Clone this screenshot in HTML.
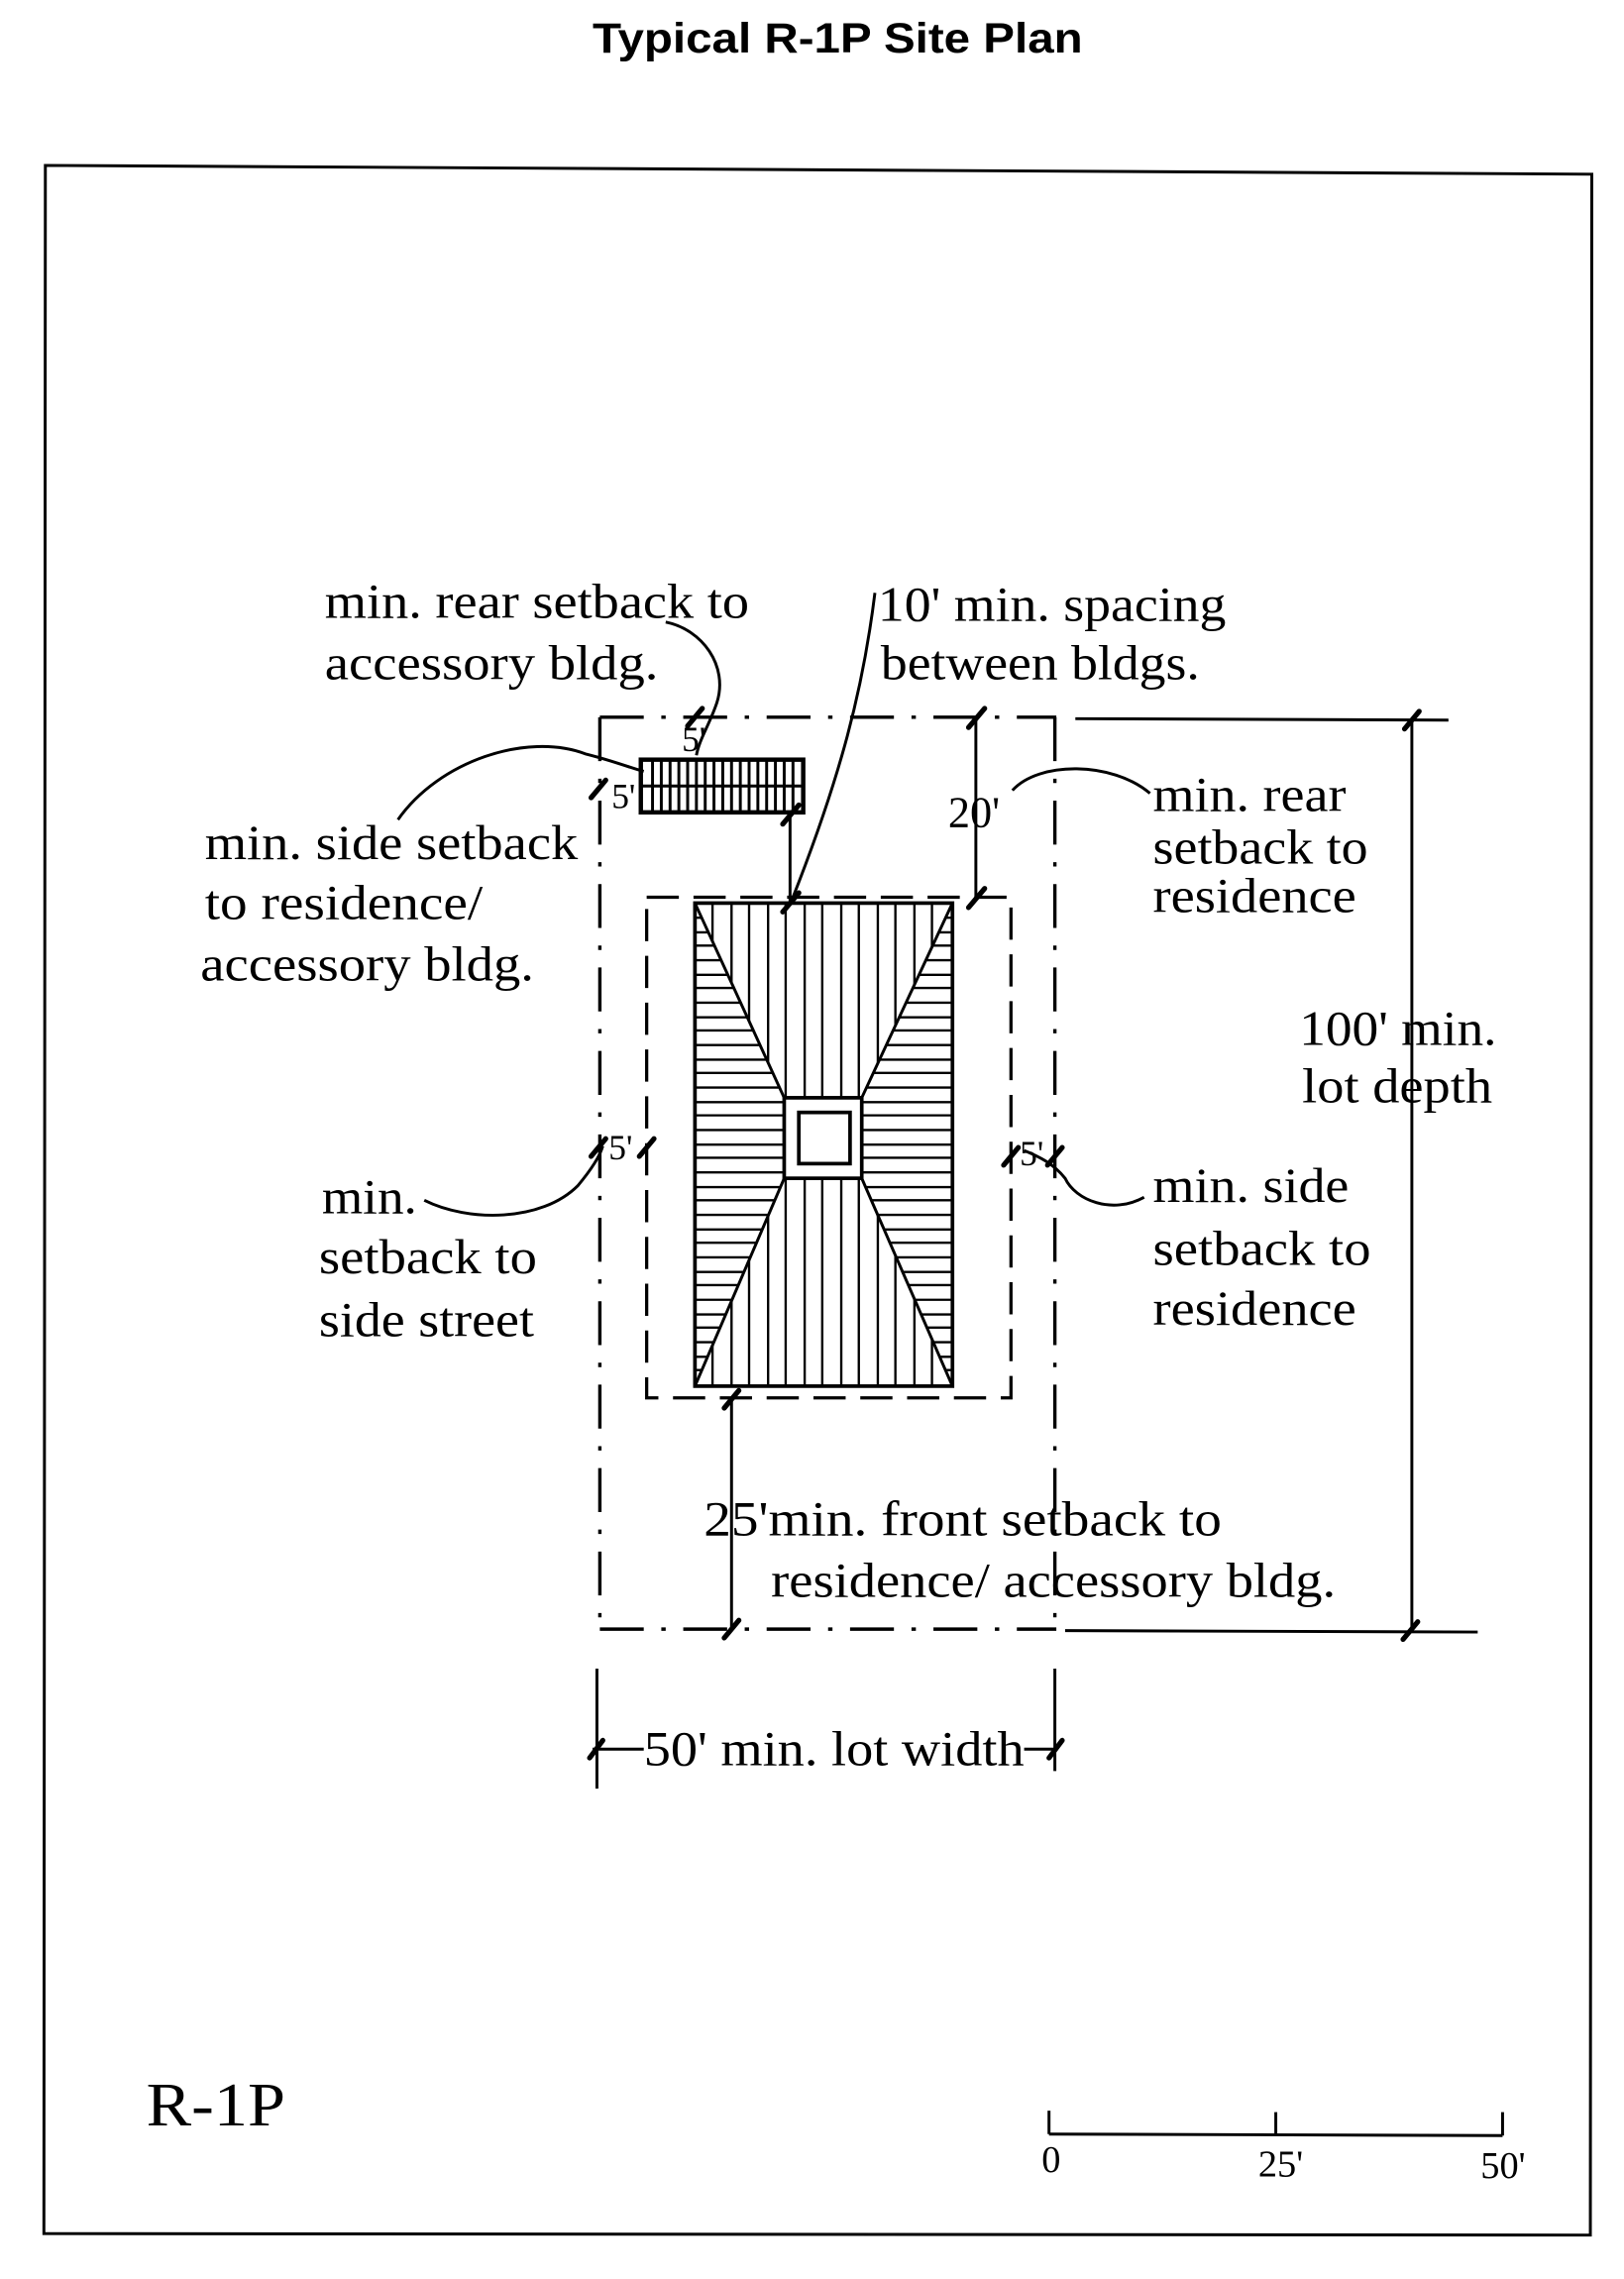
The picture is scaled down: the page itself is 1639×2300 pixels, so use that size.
<!DOCTYPE html>
<html><head><meta charset="utf-8"><style>
html,body{margin:0;padding:0;background:#fff}
svg{display:block}
text{font-family:"Liberation Serif",serif;fill:#000}
</style></head><body>
<svg width="1639" height="2300" viewBox="0 0 1110 1557" preserveAspectRatio="none" xmlns="http://www.w3.org/2000/svg">
<defs>
<clipPath id="hg"><polygon points="475,617 651,617 589,750 589,805 651,947 475,947 536,805 536,750"/></clipPath>
<clipPath id="sides"><polygon points="475,617 536,750 536,805 475,947"/><polygon points="651,617 589,750 589,805 651,947"/></clipPath>
</defs>
<text x="405" y="36" textLength="335" lengthAdjust="spacingAndGlyphs" style="font-family:'Liberation Sans',sans-serif;font-weight:bold;font-size:29px">Typical R-1P Site Plan</text>
<polygon points="31,113 1088,119 1087,1527 30,1526" fill="none" stroke="#000" stroke-width="2"/>
<g stroke="#000" stroke-width="2.3" fill="none" stroke-dasharray="30 12 3 12">
<line x1="410" y1="490" x2="722" y2="490"/>
<line x1="410" y1="490" x2="410" y2="1113"/>
<line x1="721" y1="490" x2="721" y2="1113"/>
<line x1="410" y1="1113" x2="722" y2="1113"/>
</g>
<line x1="735" y1="491" x2="990" y2="492" stroke="#000" stroke-width="2"/>
<line x1="728" y1="1114" x2="1010" y2="1115" stroke="#000" stroke-width="2"/>
<rect x="442" y="613" width="249" height="342" fill="none" stroke="#000" stroke-width="2.2" stroke-dasharray="22 10"/>
<rect x="475" y="617" width="176" height="330" fill="#fff" stroke="#000" stroke-width="2.5"/>
<g clip-path="url(#hg)" stroke="#000" stroke-width="1.6">
<line x1="487" y1="617" x2="487" y2="947"/><line x1="500" y1="617" x2="500" y2="947"/><line x1="512" y1="617" x2="512" y2="947"/><line x1="525" y1="617" x2="525" y2="947"/><line x1="537" y1="617" x2="537" y2="947"/><line x1="550" y1="617" x2="550" y2="947"/><line x1="562" y1="617" x2="562" y2="947"/><line x1="575" y1="617" x2="575" y2="947"/><line x1="587" y1="617" x2="587" y2="947"/><line x1="600" y1="617" x2="600" y2="947"/><line x1="612" y1="617" x2="612" y2="947"/><line x1="625" y1="617" x2="625" y2="947"/><line x1="637" y1="617" x2="637" y2="947"/>
</g>
<g clip-path="url(#sides)" stroke="#000" stroke-width="1.6">
<line x1="470" y1="627" x2="660" y2="627"/><line x1="470" y1="637" x2="660" y2="637"/><line x1="470" y1="646" x2="660" y2="646"/><line x1="470" y1="656" x2="660" y2="656"/><line x1="470" y1="666" x2="660" y2="666"/><line x1="470" y1="675" x2="660" y2="675"/><line x1="470" y1="685" x2="660" y2="685"/><line x1="470" y1="695" x2="660" y2="695"/><line x1="470" y1="704" x2="660" y2="704"/><line x1="470" y1="714" x2="660" y2="714"/><line x1="470" y1="724" x2="660" y2="724"/><line x1="470" y1="733" x2="660" y2="733"/><line x1="470" y1="743" x2="660" y2="743"/><line x1="470" y1="753" x2="660" y2="753"/><line x1="470" y1="762" x2="660" y2="762"/><line x1="470" y1="772" x2="660" y2="772"/><line x1="470" y1="782" x2="660" y2="782"/><line x1="470" y1="791" x2="660" y2="791"/><line x1="470" y1="801" x2="660" y2="801"/><line x1="470" y1="811" x2="660" y2="811"/><line x1="470" y1="820" x2="660" y2="820"/><line x1="470" y1="830" x2="660" y2="830"/><line x1="470" y1="840" x2="660" y2="840"/><line x1="470" y1="849" x2="660" y2="849"/><line x1="470" y1="859" x2="660" y2="859"/><line x1="470" y1="869" x2="660" y2="869"/><line x1="470" y1="878" x2="660" y2="878"/><line x1="470" y1="888" x2="660" y2="888"/><line x1="470" y1="898" x2="660" y2="898"/><line x1="470" y1="907" x2="660" y2="907"/><line x1="470" y1="917" x2="660" y2="917"/><line x1="470" y1="927" x2="660" y2="927"/><line x1="470" y1="936" x2="660" y2="936"/>
</g>
<polygon points="475,617 536,750 536,805 475,947" fill="none" stroke="#000" stroke-width="2"/>
<polygon points="651,617 589,750 589,805 651,947" fill="none" stroke="#000" stroke-width="2"/>
<rect x="536" y="750" width="53" height="55" fill="#fff" stroke="#000" stroke-width="2.5"/>
<rect x="546" y="760" width="35" height="35" fill="#fff" stroke="#000" stroke-width="2.5"/>
<rect x="438" y="519" width="111" height="36" fill="#fff" stroke="#000" stroke-width="3"/>
<g stroke="#000" stroke-width="2">
<line x1="446" y1="519" x2="446" y2="555"/><line x1="452" y1="519" x2="452" y2="555"/><line x1="458" y1="519" x2="458" y2="555"/><line x1="464" y1="519" x2="464" y2="555"/><line x1="470" y1="519" x2="470" y2="555"/><line x1="476" y1="519" x2="476" y2="555"/><line x1="482" y1="519" x2="482" y2="555"/><line x1="488" y1="519" x2="488" y2="555"/><line x1="494" y1="519" x2="494" y2="555"/><line x1="500" y1="519" x2="500" y2="555"/><line x1="506" y1="519" x2="506" y2="555"/><line x1="512" y1="519" x2="512" y2="555"/><line x1="518" y1="519" x2="518" y2="555"/><line x1="524" y1="519" x2="524" y2="555"/><line x1="530" y1="519" x2="530" y2="555"/><line x1="536" y1="519" x2="536" y2="555"/><line x1="542" y1="519" x2="542" y2="555"/>
<line x1="438" y1="537" x2="549" y2="537"/>
</g>
<g stroke="#000" stroke-width="2" fill="none">
<line x1="667" y1="490" x2="667" y2="613"/>
<line x1="540" y1="557" x2="540" y2="617"/>
<line x1="965" y1="492" x2="965" y2="1114"/>
<line x1="500" y1="955" x2="500" y2="1113"/>
<line x1="408" y1="1140" x2="408" y2="1222"/>
<line x1="721" y1="1140" x2="721" y2="1210"/>
<line x1="405" y1="1195" x2="440" y2="1195"/>
<line x1="700" y1="1195" x2="723" y2="1195"/>
<line x1="717" y1="1442" x2="717" y2="1458"/>
<line x1="717" y1="1458" x2="1027" y2="1459"/>
<line x1="872" y1="1443" x2="872" y2="1459"/>
<line x1="1027" y1="1443" x2="1027" y2="1459"/>
<path d="M455,425 C480,430 498,455 490,480 C485,495 478,505 476,516"/>
<path d="M272,560 C300,520 360,500 400,515 C420,520 432,525 440,527"/>
<path d="M598,405 C590,470 575,530 540,618"/>
<path d="M692,540 C710,520 760,520 786,542"/>
<path d="M290,820 C320,835 370,835 395,810 C405,798 410,790 412,783"/>
<path d="M782,818 C760,830 735,820 728,805 C720,795 710,790 700,786"/>
</g>
<g stroke="#000" stroke-width="3.5" stroke-linecap="round">
<line x1="662" y1="497" x2="673" y2="484"/>
<line x1="662" y1="620" x2="673" y2="607"/>
<line x1="535" y1="563" x2="546" y2="550"/>
<line x1="535" y1="623" x2="546" y2="610"/>
<line x1="960" y1="498" x2="970" y2="486"/>
<line x1="959" y1="1120" x2="969" y2="1108"/>
<line x1="495" y1="962" x2="505" y2="950"/>
<line x1="495" y1="1119" x2="505" y2="1107"/>
<line x1="403" y1="1201" x2="412" y2="1189"/>
<line x1="717" y1="1201" x2="726" y2="1189"/>
<line x1="470" y1="496" x2="480" y2="484"/>
<line x1="404" y1="545" x2="414" y2="533"/>
<line x1="404" y1="790" x2="414" y2="778"/>
<line x1="437" y1="790" x2="447" y2="778"/>
<line x1="686" y1="796" x2="696" y2="784"/>
<line x1="716" y1="796" x2="726" y2="784"/>
</g>
<g style="font-size:34px" lengthAdjust="spacingAndGlyphs">
<text x="222" y="422" textLength="290" lengthAdjust="spacingAndGlyphs">min. rear setback to</text>
<text x="222" y="464" textLength="228" lengthAdjust="spacingAndGlyphs">accessory bldg.</text>
<text x="600" y="424" textLength="238" lengthAdjust="spacingAndGlyphs">10' min. spacing</text>
<text x="602" y="464" textLength="218" lengthAdjust="spacingAndGlyphs">between bldgs.</text>
<text x="140" y="587" textLength="255" lengthAdjust="spacingAndGlyphs">min. side setback</text>
<text x="140" y="628" textLength="190" lengthAdjust="spacingAndGlyphs">to residence/</text>
<text x="137" y="670" textLength="228" lengthAdjust="spacingAndGlyphs">accessory bldg.</text>
<text x="788" y="554" textLength="132" lengthAdjust="spacingAndGlyphs">min. rear</text>
<text x="788" y="590" textLength="147" lengthAdjust="spacingAndGlyphs">setback to</text>
<text x="788" y="623" textLength="139" lengthAdjust="spacingAndGlyphs">residence</text>
<text x="888" y="714" textLength="135" lengthAdjust="spacingAndGlyphs">100' min.</text>
<text x="890" y="753" textLength="130" lengthAdjust="spacingAndGlyphs">lot depth</text>
<text x="220" y="829" textLength="65" lengthAdjust="spacingAndGlyphs">min.</text>
<text x="218" y="870" textLength="149" lengthAdjust="spacingAndGlyphs">setback to</text>
<text x="218" y="913" textLength="147" lengthAdjust="spacingAndGlyphs">side street</text>
<text x="788" y="821" textLength="134" lengthAdjust="spacingAndGlyphs">min. side</text>
<text x="788" y="864" textLength="149" lengthAdjust="spacingAndGlyphs">setback to</text>
<text x="788" y="905" textLength="139" lengthAdjust="spacingAndGlyphs">residence</text>
<text x="481" y="1049" textLength="354" lengthAdjust="spacingAndGlyphs">25'min. front setback to</text>
<text x="527" y="1091" textLength="386" lengthAdjust="spacingAndGlyphs">residence/ accessory bldg.</text>
<text x="440" y="1206" textLength="260" lengthAdjust="spacingAndGlyphs">50' min. lot width</text>
</g>
<g style="font-size:24px">
<text x="418" y="552">5'</text>
<text x="466" y="513">5'</text>
<text x="648" y="565" style="font-size:30px">20'</text>
<text x="416" y="792">5'</text>
<text x="697" y="796">5'</text>
</g>
<text x="100" y="1452" textLength="95" lengthAdjust="spacingAndGlyphs" style="font-size:42px">R-1P</text>
<g style="font-size:26px">
<text x="712" y="1484">0</text>
<text x="860" y="1487">25'</text>
<text x="1012" y="1488">50'</text>
</g>
</svg>
</body></html>
